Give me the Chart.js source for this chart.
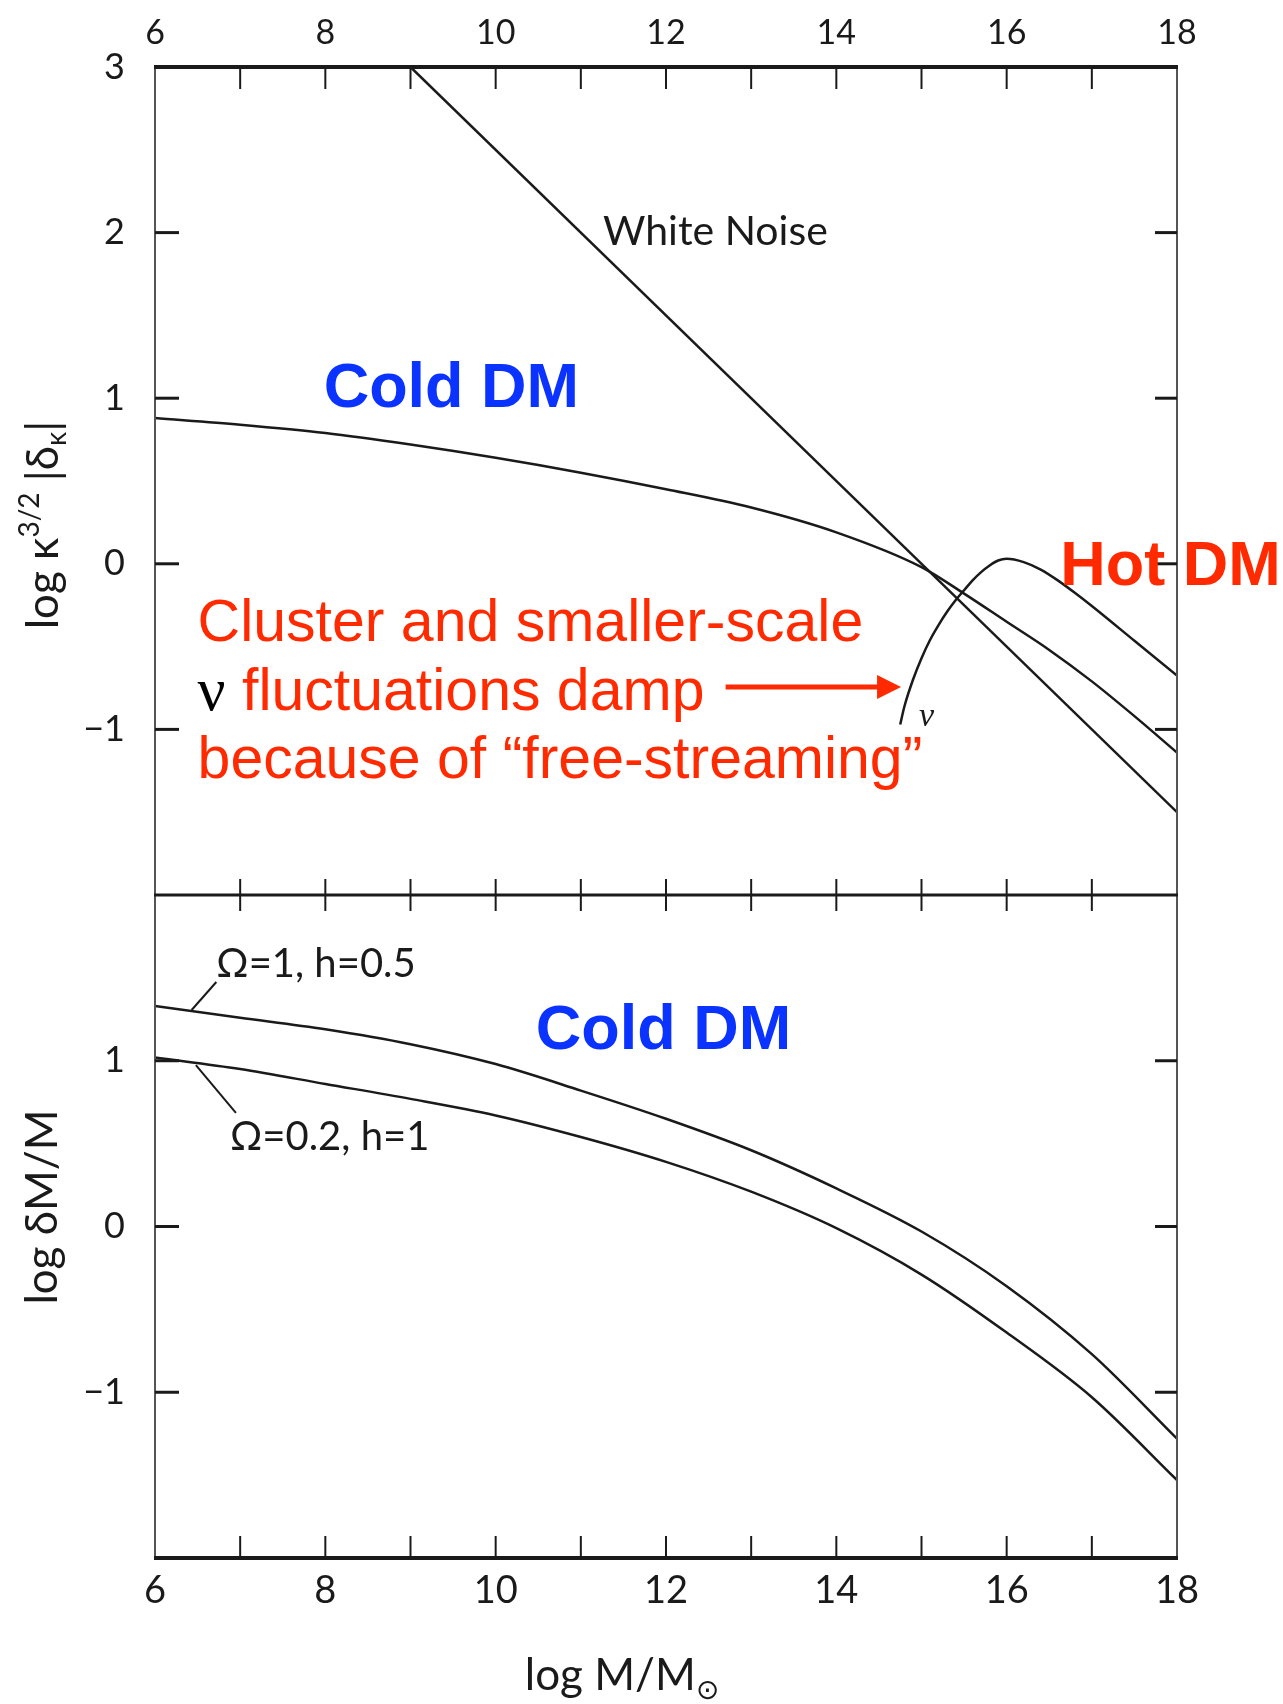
<!DOCTYPE html>
<html>
<head>
<meta charset="utf-8">
<script src="https://cdn.jsdelivr.net/npm/chart.js@4.4.1/dist/chart.umd.min.js"></script>
<style>
body{margin:0;background:#fff;width:1283px;height:1704px;position:relative;overflow:hidden}
canvas{position:absolute;left:0}
#top{top:0}
#bottom{top:860px}
</style>
</head>
<body>
<canvas id="top" width="1283" height="930"></canvas>
<canvas id="bottom" width="1283" height="844"></canvas>
<script>
// log M/M_sun on the x axis, both panels
const massTicks = [6, 8, 10, 12, 14, 16, 18]
const minorMass = [7, 8, 9, 10, 11, 12, 13, 14, 15, 16, 17]

// top panel: log k^3/2 |delta_k|
const noiseX = [9, 18]
const noiseY = [3, -1.5]

const coldX = [6, 7, 8, 9, 10, 11, 12, 13, 14, 15, 15.5, 16, 16.5, 17, 17.5, 18]
const coldY = [0.88, 0.84, 0.79, 0.72, 0.64, 0.55, 0.45, 0.34, 0.19, -0.02, -0.18, -0.35, -0.52, -0.71, -0.92, -1.14]

const hotX = [14.75, 14.8, 14.9, 15.0, 15.1, 15.2, 15.3, 15.4, 15.5, 15.6, 15.7, 15.8, 15.9, 16.0, 16.2, 16.4, 16.6, 16.8, 17, 17.5, 18]
const hotY = [-0.97, -0.86, -0.70, -0.57, -0.46, -0.37, -0.29, -0.22, -0.16, -0.10, -0.05, -0.01, 0.02, 0.03, 0.01, -0.035, -0.10, -0.175, -0.255, -0.465, -0.675]

// bottom panel: log dM/M
const bottomX = [6, 7, 8, 9, 10, 11, 12, 13, 14, 15, 16, 17, 18]
const omega1Y = [1.33, 1.26, 1.19, 1.10, 0.98, 0.82, 0.65, 0.46, 0.23, -0.03, -0.36, -0.77, -1.28]
const omega02Y = [1.02, 0.95, 0.86, 0.77, 0.67, 0.54, 0.39, 0.21, -0.01, -0.29, -0.64, -1.03, -1.53]

const topTicksY = [2, 1, 0, -1]
const bottomTicksY = [1, 0, -1]

const LETTER = 'Lato, "DejaVu Sans", sans-serif'
const ARIAL = '"Liberation Sans", Arial, sans-serif'
const SERIF = '"Liberation Serif", "DejaVu Serif", serif'
const INK = '#1a1a1a'
const RED = '#ff2a00'
const BLUE = '#0a33ff'

Chart.defaults.font.family = LETTER
Chart.defaults.color = INK

function pts(xs, ys){
return xs.map((x, i) => ({x: x, y: ys[i]}))
}

function tickText(v){
return v < 0 ? '\u2212' + Math.abs(v) : String(v)
}

function line(ctx, x1, y1, x2, y2){
ctx.beginPath()
ctx.moveTo(x1, y1)
ctx.lineTo(x2, y2)
ctx.stroke()
}

// box round each panel, with the inward ticks of the original figure
const frame = {
id: 'frame',
afterDraw(chart, args, o){
const {ctx, chartArea: a, scales: {x, y}} = chart
ctx.save()
ctx.lineCap = 'butt'
ctx.strokeStyle = '#555'
ctx.lineWidth = 2
line(ctx, a.left, a.top, a.left, a.bottom)
line(ctx, a.right, a.top, a.right, a.bottom)
ctx.strokeStyle = INK
;[['top', a.top], ['bottom', a.bottom]].forEach(([k, py]) => {
const e = o[k]
if (!e) return
ctx.lineWidth = e.width
line(ctx, a.left - 1, py, a.right + 1, py)
ctx.lineWidth = 2
minorMass.forEach(m => {
const px = x.getPixelForValue(m)
line(ctx, px, py - e.up, px, py + e.down)
})
})
ctx.lineWidth = 3
o.yTicks.forEach(v => {
const py = y.getPixelForValue(v)
line(ctx, a.left, py, a.left + 24, py)
line(ctx, a.right - 22, py, a.right, py)
})
ctx.restore()
}
}

// text and arrows placed in data units
const annotate = {
id: 'annotate',
afterDraw(chart, args, o){
const {ctx, scales: {x, y}} = chart
ctx.save()
ctx.textAlign = 'left'
ctx.textBaseline = 'alphabetic'
;(o.segments || []).forEach(s => {
const x1 = x.getPixelForValue(s.from[0]), y1 = y.getPixelForValue(s.from[1])
const x2 = x.getPixelForValue(s.to[0]), y2 = y.getPixelForValue(s.to[1])
ctx.strokeStyle = s.color
ctx.fillStyle = s.color
ctx.lineWidth = s.width
if (s.head){
line(ctx, x1, y1, x2 - s.head + 2, y2)
ctx.beginPath()
ctx.moveTo(x2, y2)
ctx.lineTo(x2 - s.head, y2 - s.half)
ctx.lineTo(x2 - s.head, y2 + s.half)
ctx.closePath()
ctx.fill()
} else {
line(ctx, x1, y1, x2, y2)
}
})
;(o.labels || []).forEach(l => {
let px = x.getPixelForValue(l.at[0])
const py = y.getPixelForValue(l.at[1])
l.runs.forEach(r => {
ctx.font = r.font
ctx.fillStyle = r.color
ctx.fillText(r.text, px, py)
px += ctx.measureText(r.text).width
})
})
ctx.restore()
}
}

// axis titles with super/subscripts
const titles = {
id: 'titles',
afterDraw(chart, args, o){
const ctx = chart.ctx
ctx.save()
ctx.fillStyle = INK
ctx.textAlign = 'left'
ctx.textBaseline = 'alphabetic'
o.items.forEach(t => {
let w = 0
t.runs.forEach(r => {
ctx.font = r[1] + 'px ' + LETTER
w += ctx.measureText(r[0]).width
})
ctx.save()
ctx.translate(t.x, t.y)
if (t.rotate) ctx.rotate(-Math.PI / 2)
let cx = -w / 2
t.runs.forEach(r => {
ctx.font = r[1] + 'px ' + LETTER
ctx.fillText(r[0], cx, r[2])
cx += ctx.measureText(r[0]).width
})
ctx.restore()
})
ctx.restore()
}
}

function curve(data, smooth){
return {
data: data,
borderColor: INK,
borderWidth: 2.5,
pointRadius: 0,
fill: false,
cubicInterpolationMode: smooth ? 'monotone' : 'default',
tension: 0
}
}

// fixed box sizes so the plot area lands where the original has it
function noEdgePadding(s){
s.paddingTop = 0
s.paddingBottom = 0
s.paddingLeft = 0
s.paddingRight = 0
}

function xScale(position, size, padding, height){
return {
type: 'linear',
position: position,
min: 6,
max: 18,
afterBuildTicks: s => { s.ticks = massTicks.map(v => ({value: v})) },
ticks: {padding: padding, color: INK, font: {size: size}},
grid: {display: false, drawTicks: false},
border: {display: false},
afterFit: s => { s.height = height; noEdgePadding(s) }
}
}

function yScale(min, max, shown){
return {
type: 'linear',
min: min,
max: max,
ticks: {
stepSize: 1,
padding: 30,
color: INK,
font: {size: 36},
callback: v => shown.includes(v) || v === 3 ? tickText(v) : null
},
grid: {display: false, drawTicks: false},
border: {display: false},
afterFit: s => { s.width = 155; noEdgePadding(s) }
}
}

new Chart(document.getElementById('top'), {
type: 'line',
data: {
datasets: [
curve(pts(noiseX, noiseY), false),
curve(pts(coldX, coldY), true),
curve(pts(hotX, hotY), true)
]
},
options: {
responsive: false,
animation: false,
devicePixelRatio: 1,
layout: {padding: {left: 0, right: 106, top: 0, bottom: 35}},
scales: {
x: xScale('top', 34, 14, 67),
y: yScale(-2, 3, topTicksY)
},
plugins: {
legend: {display: false},
tooltip: {enabled: false},
frame: {top: {width: 4, up: 0, down: 22}, yTicks: topTicksY},
annotate: {
segments: [
{from: [12.70, -0.744], to: [14.76, -0.744], color: RED, width: 5, head: 24, half: 12}
],
labels: [
{at: [11.26, 1.925], runs: [{text: 'White Noise', font: '41px ' + LETTER, color: INK}]},
{at: [7.98, 0.947], runs: [{text: 'Cold DM', font: 'bold 63px ' + ARIAL, color: BLUE}]},
{at: [16.63, -0.128], runs: [{text: 'Hot DM', font: 'bold 63px ' + ARIAL, color: RED}]},
{at: [6.50, -0.466], runs: [{text: 'Cluster and smaller-scale', font: '59px ' + ARIAL, color: RED}]},
{at: [6.50, -0.883], runs: [
{text: '\u03bd', font: '62px ' + SERIF, color: '#000'},
{text: ' fluctuations damp', font: '59px ' + ARIAL, color: RED}
]},
{at: [6.50, -1.294], runs: [{text: 'because of \u201cfree-streaming\u201d', font: '59px ' + ARIAL, color: RED}]},
{at: [14.97, -0.98], runs: [{text: '\u03bd', font: 'italic 34px ' + SERIF, color: INK}]}
]
},
titles: {
items: [
{x: 58, y: 525, rotate: true, runs: [
['log \u03ba', 44, 0], ['3/2', 28, -19], [' |\u03b4', 44, 0], ['\u03ba', 28, 8], ['|', 44, 0]
]}
]
}
}
},
plugins: [frame, annotate, titles]
})

new Chart(document.getElementById('bottom'), {
type: 'line',
data: {
datasets: [
curve(pts(bottomX, omega1Y), true),
curve(pts(bottomX, omega02Y), true)
]
},
options: {
responsive: false,
animation: false,
devicePixelRatio: 1,
layout: {padding: {left: 0, right: 106, top: 35, bottom: 0}},
scales: {
x: xScale('bottom', 38, 10, 146),
y: yScale(-2, 2, bottomTicksY)
},
plugins: {
legend: {display: false},
tooltip: {enabled: false},
frame: {top: {width: 3, up: 16, down: 16}, bottom: {width: 4, up: 22, down: 0}, yTicks: bottomTicksY},
annotate: {
segments: [
{from: [6.43, 1.306], to: [6.72, 1.475], color: INK, width: 2},
{from: [6.48, 0.974], to: [6.95, 0.685], color: INK, width: 2}
],
labels: [
{at: [10.47, 1.071], runs: [{text: 'Cold DM', font: 'bold 63px ' + ARIAL, color: BLUE}]},
{at: [6.72, 1.505], runs: [{text: '\u03a9=1, h=0.5', font: '40px ' + LETTER, color: INK}]},
{at: [6.88, 0.462], runs: [{text: '\u03a9=0.2, h=1', font: '40px ' + LETTER, color: INK}]}
]
},
titles: {
items: [
{x: 57, y: 347, rotate: true, runs: [['log \u03b4M/M', 44, 0]]},
{x: 622, y: 830, rotate: false, runs: [['log M/M', 44, 0], ['\u2299', 28, 9]]}
]
}
}
},
plugins: [frame, annotate, titles]
})
</script>
</body>
</html>
